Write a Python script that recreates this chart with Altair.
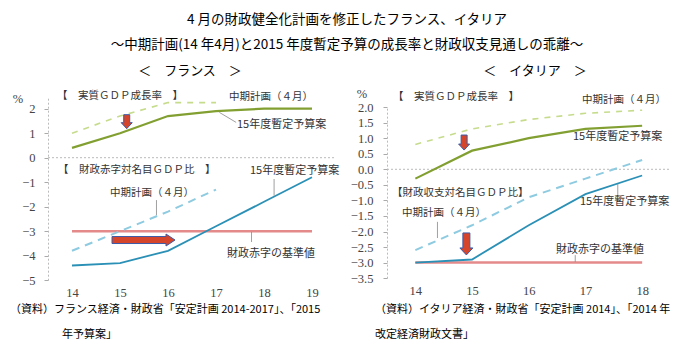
import altair as alt
import pandas as pd

# ---------------- data ----------------
years_fr = [14, 15, 16, 17, 18, 19]
fr_gdp_budget = [0.4, 1.0, 1.7, 1.9, 2.0, 2.0]
years_fr_plan = [14, 15, 16, 17]
fr_gdp_plan = [1.0, 1.7, 2.25, 2.25]
fr_def_budget = [-4.4, -4.3, -3.8, -2.8, -1.8, -0.8]
fr_def_plan = [-3.8, -3.0, -2.2, -1.3]
fr_ref_years = [14, 19]

years_it = [14, 15, 16, 17, 18]
it_gdp_budget = [-0.3, 0.6, 1.0, 1.3, 1.4]
it_gdp_plan = [0.8, 1.3, 1.6, 1.8, 1.9]
it_def_budget = [-3.0, -2.9, -1.8, -0.8, -0.2]
it_def_plan = [-2.6, -1.8, -0.9, -0.3, 0.3]
it_ref_years = [14, 18]

deficit_ref = -3.0

fr_yticks = [-5, -4, -3, -2, -1, 0, 1, 2]
it_yticks = [-3.5, -3.0, -2.5, -2.0, -1.5, -1.0, -0.5, 0.0, 0.5, 1.0, 1.5, 2.0]

title1 = "4 月の財政健全化計画を修正したフランス、イタリア"
title2 = "～中期計画(14 年4月)と2015 年度暫定予算の成長率と財政収支見通しの乖離～"

# ---------------- style ----------------
FONT_JP = "Noto Sans CJK JP"
FONT_NUM = "Liberation Serif, DejaVu Serif, serif"
W, H = 347, 351
GREEN = "#82a032"
GREEN_L = "#c6dc8c"
BLUE = "#2b90b6"
BLUE_L = "#8ecbe0"
REF = "#e48a8a"
ARROW_FILL = "#d4452c"
ARROW_STROKE = "#3a5aa8"


def arrow_path(L, shaft_w, head_w, head_l, direction):
    s = L / 2
    a = shaft_w / 2 / s
    b = head_w / 2 / s
    c = 1 - head_l / s
    if direction == "down":
        pts = [(-a, -1), (a, -1), (a, c), (b, c), (0, 1), (-b, c), (-a, c)]
    else:
        pts = [(-1, -a), (c, -a), (c, -b), (1, 0), (c, b), (c, a), (-1, a)]
    return "M" + "L".join(f"{x:.3f},{y:.3f}" for x, y in pts) + "Z"


def make_panel(cfg):
    xs = alt.Scale(domain=cfg["xdom"], range=cfg["xrng"], nice=False, zero=False)
    ys = alt.Scale(domain=cfg["ydom"], range=cfg["yrng"], nice=False, zero=False)
    xaxis = alt.Axis(values=cfg["xticks"], format="d", offset=-(H - cfg["yrng"][0]),
                     domain=False, ticks=False, grid=False, labelPadding=6, title=None,
                     labelFont=FONT_NUM, labelFontSize=12.5, labelColor="#444")
    yaxis = alt.Axis(values=cfg["yticks"], format=cfg["yfmt"], offset=-cfg["xrng"][0],
                     grid=False, title=None, domainColor="#bbbbbb", domainDash=[2, 2],
                     tickColor="#aaaaaa", tickSize=4, labelPadding=cfg["lpad"],
                     labelFont=FONT_NUM, labelFontSize=12.5, labelColor="#444")
    X = alt.X("x:Q", scale=xs, axis=xaxis)
    Y = alt.Y("y:Q", scale=ys, axis=yaxis)

    layers = []
    # zero line
    zdf = pd.DataFrame({"x": [cfg["xdom"][0]], "x2": [cfg["xdom"][1]], "y": [0]})
    layers.append(alt.Chart(zdf).mark_rule(color="#bbbbbb", strokeWidth=1, strokeDash=[2, 2])
                  .encode(x=X, x2="x2:Q", y=Y))

    def line(xv, yv, color, width, dash=None):
        df = pd.DataFrame({"x": xv, "y": yv})
        if dash:
            m = alt.Chart(df).mark_line(color=color, strokeWidth=width, strokeDash=dash)
        else:
            m = alt.Chart(df).mark_line(color=color, strokeWidth=width)
        return m.encode(x=X, y=Y)

    for (xv, yv, color, width, dash) in cfg["lines"]:
        layers.append(line(xv, yv, color, width, dash))

    # leader lines
    for (x1, y1, x2, y2) in cfg["leaders"]:
        df = pd.DataFrame({"x": [x1], "y": [y1], "x2": [x2], "y2": [y2]})
        layers.append(alt.Chart(df).mark_rule(color="#888888", strokeWidth=0.8)
                      .encode(x=X, y=Y, x2="x2:Q", y2="y2:Q"))

    # arrows
    for (ax, ay, L, sw, hw, hl, d) in cfg["arrows"]:
        df = pd.DataFrame({"x": [ax], "y": [ay]})
        layers.append(alt.Chart(df).mark_point(shape=arrow_path(L, sw, hw, hl, d), size=L * L,
                                               filled=True, fill=ARROW_FILL, stroke=ARROW_STROKE,
                                               strokeWidth=1, opacity=1)
                      .encode(x=X, y=Y))

    # texts (pixel positioned annotations)
    for (s, px, py, size, align, font, color) in cfg["texts"]:
        df = pd.DataFrame({"t": [s]})
        layers.append(alt.Chart(df).mark_text(align=align, baseline="middle", font=font,
                                              fontSize=size, color=color)
                      .encode(x=alt.value(px), y=alt.value(py), text="t:N"))

    return alt.layer(*layers).properties(width=W, height=H)


fr_cfg = dict(
    xdom=[13.5, 19.5], xrng=[48, 336], ydom=[-5, 2.5], yrng=[280.2, 96.45],
    xticks=years_fr, yticks=fr_yticks, yfmt="d", lpad=9,
    lines=[
        (years_fr_plan, fr_gdp_plan, GREEN_L, 1.6, [6, 6]),
        (years_fr, fr_gdp_budget, GREEN, 2.2, None),
        (fr_ref_years, [deficit_ref, deficit_ref], REF, 2.5, None),
        (years_fr_plan, fr_def_plan, BLUE_L, 2.0, [8, 6]),
        (years_fr, fr_def_budget, BLUE, 1.8, None),
    ],
    leaders=[
        (17.07, 1.85, 17.42, 1.44),
        (18.21, -0.87, 18.21, -1.55),
        (15.76, -1.73, 15.76, -2.34),
        (17.74, -3.03, 17.74, -3.44),
    ],
    arrows=[
        (15.14, 1.47, 14, 6, 11, 6, "down"),
        (15.49, -3.36, 63, 7, 12, 9, "right"),
    ],
    texts=[
        (title1, 347, 20, 13.5, "center", FONT_JP, "#000"),
        (title2, 347, 45, 13.5, "center", FONT_JP, "#000"),
        ("＜　フランス　＞", 190, 71, 13, "center", FONT_JP, "#000"),
        ("%", 18, 99, 12.5, "center", FONT_NUM, "#444"),
        ("【　実質ＧＤＰ成長率　】", 57, 96, 10.5, "left", FONT_JP, "#333"),
        ("中期計画（４月）", 229, 97, 10.5, "left", FONT_JP, "#333"),
        ("15年度暫定予算案", 237, 125, 11, "left", FONT_JP, "#333"),
        ("【　財政赤字対名目ＧＤＰ比　】", 58, 170, 10.5, "left", FONT_JP, "#333"),
        ("15年度暫定予算案", 250, 171, 11, "left", FONT_JP, "#333"),
        ("中期計画（４月）", 110, 193, 10.5, "left", FONT_JP, "#333"),
        ("財政赤字の基準値", 227, 254, 11, "left", FONT_JP, "#333"),
        ("（資料）フランス経済・財政省「安定計画 2014-2017」、「2015", 10, 310, 11, "left", FONT_JP, "#000"),
        ("年予算案」", 62, 335, 11, "left", FONT_JP, "#000"),
    ],
)

it_cfg = dict(
    xdom=[13.5, 18.5], xrng=[40, 323.5], ydom=[-3.5, 2.0], yrng=[278.15, 107.1],
    xticks=years_it, yticks=it_yticks, yfmt=".1f", lpad=10,
    lines=[
        (years_it, it_gdp_plan, GREEN_L, 1.6, [6, 6]),
        (years_it, it_gdp_budget, GREEN, 2.2, None),
        (it_ref_years, [deficit_ref, deficit_ref], REF, 2.5, None),
        (years_it, it_def_plan, BLUE_L, 2.0, [8, 6]),
        (years_it, it_def_budget, BLUE, 1.8, None),
    ],
    leaders=[
        (17.57, -0.47, 17.57, -0.86),
        (14.39, -1.69, 14.39, -2.21),
        (16.82, -2.76, 16.82, -2.98),
    ],
    arrows=[
        (14.86, 0.86, 15, 6, 11, 6, "down"),
        (14.9, -2.40, 22, 7, 13, 7, "down"),
    ],
    texts=[
        ("＜　イタリア　＞", 188, 71, 13, "center", FONT_JP, "#000"),
        ("%", 15, 94, 12.5, "center", FONT_NUM, "#444"),
        ("【　実質ＧＤＰ成長率　】", 46, 97, 10.5, "left", FONT_JP, "#333"),
        ("中期計画（４月）", 235, 100, 10.5, "left", FONT_JP, "#333"),
        ("15年度暫定予算案", 226, 137, 11, "left", FONT_JP, "#333"),
        ("【財政収支対名目ＧＤＰ比】", 45, 193, 10.5, "left", FONT_JP, "#333"),
        ("15年度暫定予算案", 233, 202, 11, "left", FONT_JP, "#333"),
        ("中期計画（４月）", 55, 213, 10.5, "left", FONT_JP, "#333"),
        ("財政赤字の基準値", 209, 250, 11, "left", FONT_JP, "#333"),
        ("（資料）イタリア経済・財政省「安定計画 2014」、「2014 年", 28, 310, 11, "left", FONT_JP, "#000"),
        ("改定経済財政文書」", 28, 335, 11, "left", FONT_JP, "#000"),
    ],
)

left = make_panel(fr_cfg)
right = make_panel(it_cfg)

chart = (
    alt.hconcat(left, right, spacing=0, bounds="flush")
    .properties(padding=0, background="white")
    .configure_view(stroke=None)
)

chart.save("out.html", embed_options={"renderer": "svg", "actions": False})
